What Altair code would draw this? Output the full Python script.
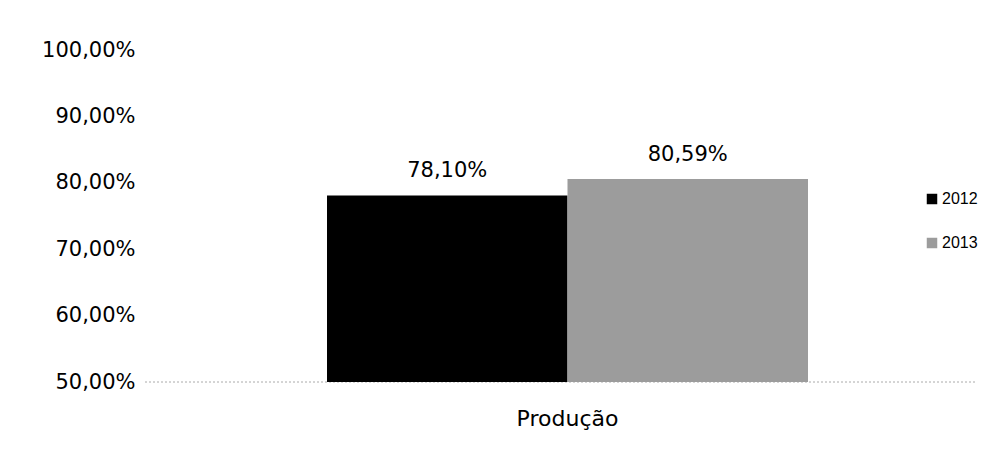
import altair as alt
import pandas as pd

categories = ["Produção", "Produção"]
years = ["2012", "2013"]
values = [78.10, 80.59]
labels = ["78,10%", "80,59%"]
colors = ["#000000", "#9c9c9c"]

df = pd.DataFrame({"cat": categories, "year": years, "value": values, "label": labels})

font = "DejaVu Sans"

base = alt.Chart(df).encode(
    x=alt.X("cat:N", title=None,
            scale=alt.Scale(paddingOuter=0.3628, paddingInner=0, align=0.5215),
            axis=alt.Axis(labelAngle=0, labelFontSize=22, labelFont=font, labelColor="#000",
                          domain=False, ticks=False, labelPadding=26)),
    xOffset=alt.XOffset("year:N", scale=alt.Scale(paddingInner=0, paddingOuter=0)),
)

bars = base.mark_bar(stroke=None).encode(
    y=alt.Y("value:Q", title=None,
            scale=alt.Scale(domain=[50, 100], clamp=True, nice=False, zero=False),
            axis=alt.Axis(values=[50, 60, 70, 80, 90, 100],
                          labelExpr="replace(format(datum.value, '.2f'), '.', ',') + '%'",
                          labelFontSize=21, labelFont=font, labelColor="#000",
                          domain=False, ticks=False, grid=False, labelPadding=10)),
    y2=alt.value(332),
    color=alt.Color("year:N", scale=alt.Scale(domain=years, range=colors),
                    legend=alt.Legend(title=None, orient="none", legendX=779, legendY=141,
                                      symbolType="square", symbolSize=110, labelFontSize=16,
                                      labelFont="Liberation Sans", rowPadding=28,
                                      symbolStrokeWidth=0, labelColor="#000", labelOffset=2)),
)

text = base.mark_text(dy=-14, fontSize=21, font=font, color="#000", baseline="bottom").encode(
    y=alt.Y("value:Q"),
    text="label:N",
)

baseline = alt.Chart(pd.DataFrame({"v": [50]})).mark_rule(
    color="#aaaaaa", strokeDash=[2, 2], strokeWidth=1
).encode(y=alt.Y("v:Q"))

chart = alt.layer(baseline, bars, text).properties(
    width=830, height=332,
    autosize=alt.AutoSizeParams(type="none"),
    padding={"left": 137, "top": 42, "right": 13, "bottom": 60},
).configure(background="white", view=alt.ViewConfig(strokeWidth=0, stroke=None))

chart.save("out.html", embed_options={"renderer": "svg", "actions": False})
